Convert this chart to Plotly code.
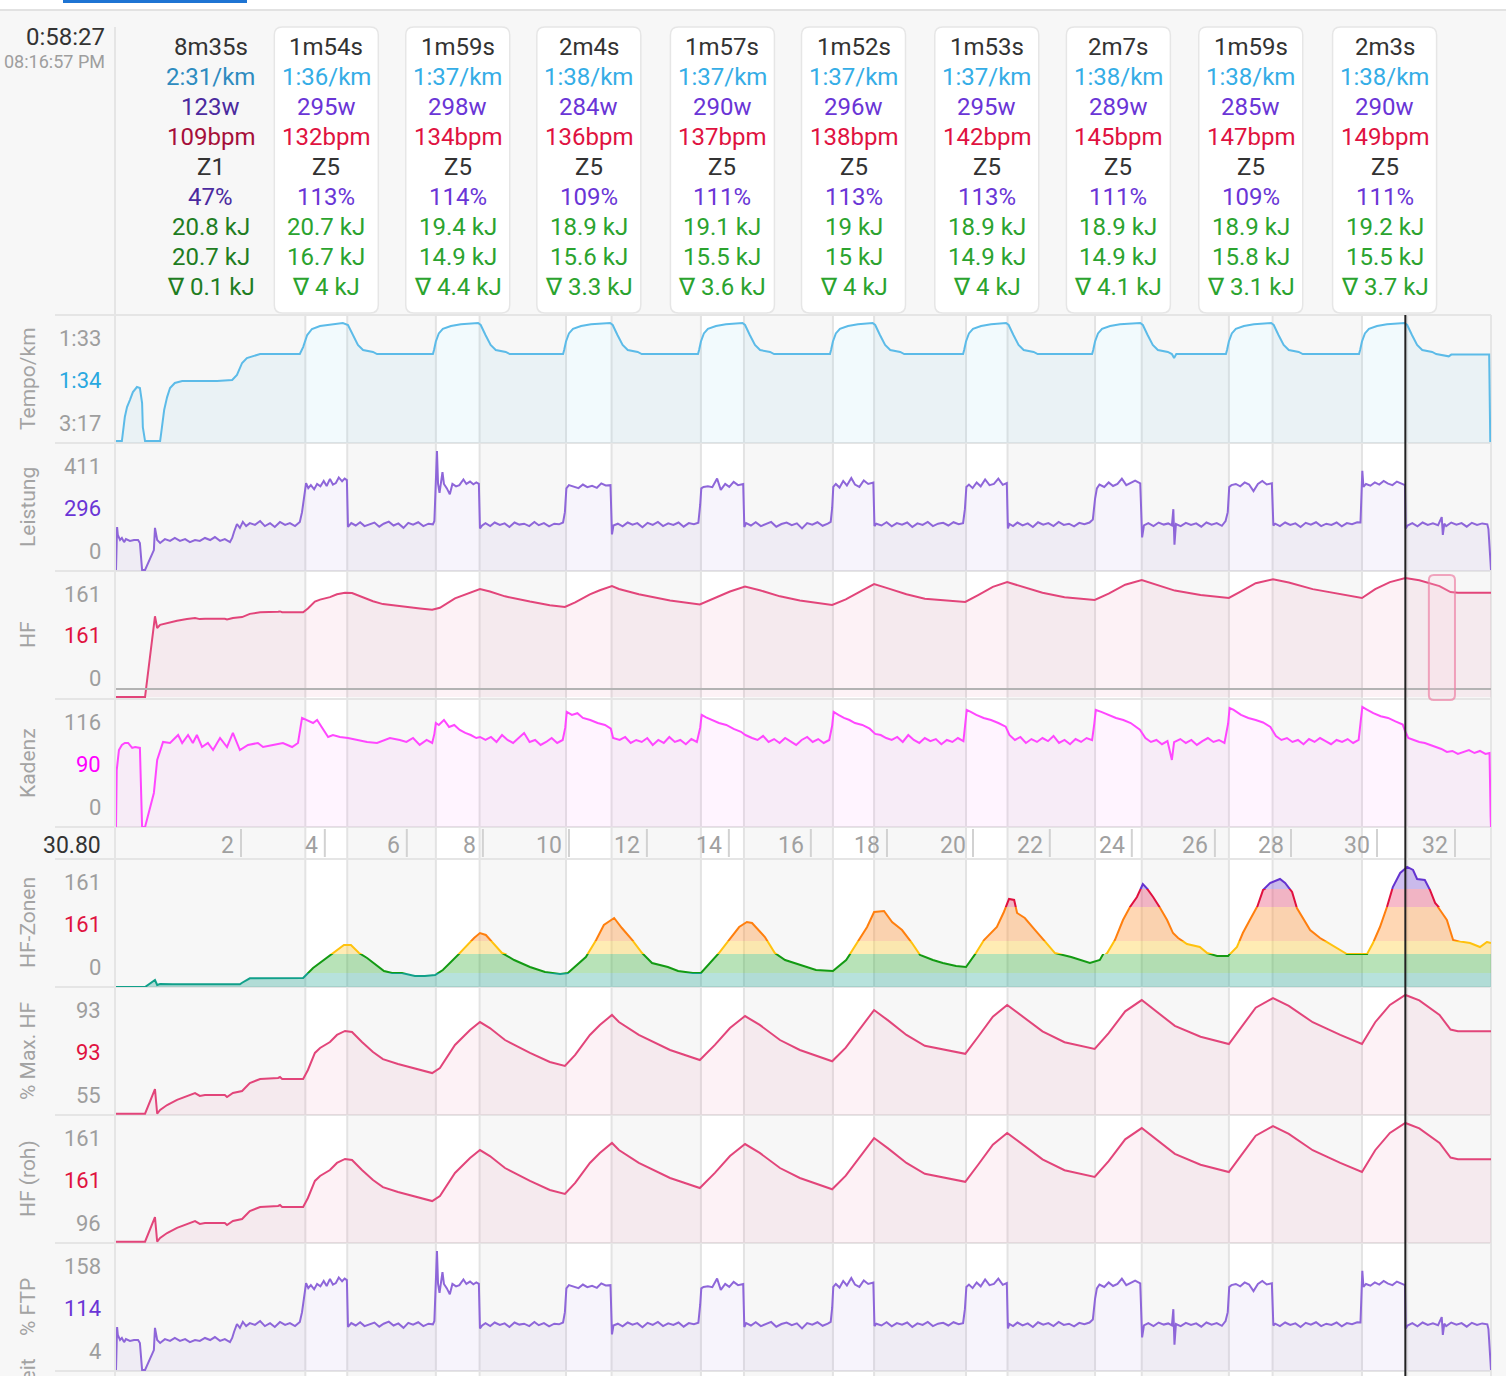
import plotly.graph_objects as go
import numpy as np

# ---------------- data ----------------
# elapsed time in seconds for every sample list
tempo_t = [0, 16, 24, 30, 38, 46, 57, 65, 71, 73, 79, 120, 125, 131, 139, 147, 160, 180, 275, 316, 329, 343, 356, 373, 392, 500,
           509, 520, 533, 555, 574, 617, 631, 645, 658, 672, 699, 710,
           862, 865, 870, 878, 889, 911, 938, 985, 992, 1005, 1019, 1033, 1060, 1071,
           1216, 1219, 1224, 1232, 1243, 1265, 1292, 1344, 1351, 1364, 1378, 1392, 1419, 1430,
           1583, 1586, 1591, 1599, 1610, 1632, 1659, 1704, 1711, 1724, 1738, 1752, 1779, 1790,
           1942, 1945, 1950, 1958, 1969, 1991, 2018, 2058, 2065, 2078, 2092, 2106, 2133, 2144,
           2304, 2307, 2312, 2320, 2331, 2353, 2380, 2421, 2428, 2441, 2455, 2469, 2496, 2507,
           2655, 2658, 2663, 2671, 2682, 2704, 2731, 2786, 2793, 2806, 2820, 2834, 2861, 2872, 2878, 2884,
           3019, 3022, 3027, 3035, 3046, 3068, 3095, 3142, 3149, 3162, 3176, 3190, 3217, 3228,
           3381, 3384, 3389, 3397, 3408, 3430, 3457, 3505, 3512, 3525, 3539, 3553, 3580, 3591, 3625, 3632, 3735, 3738, 3740]
tempo_pace = [197, 197, 176, 167.3, 161, 154.2, 149.8, 150.7, 163.8, 184.8, 197, 197, 184.8, 169.9, 158.6, 150.7, 146.3, 144.6, 144.6, 143.7, 139.3, 128.8, 124.5, 122.7, 121, 121,
              114.9, 104.4, 99.1, 96.5, 95.6, 93.9, 95.6, 104.4, 113.1, 117.5, 119.2, 121,
              121, 117.5, 110, 103, 99, 96.5, 95, 93.9, 95.6, 104.4, 113.1, 117.5, 119.2, 121,
              121, 117.5, 110, 103, 99, 96.5, 95, 93.9, 95.6, 104.4, 113.1, 117.5, 119.2, 121,
              121, 117.5, 110, 103, 99, 96.5, 95, 93.9, 95.6, 104.4, 113.1, 117.5, 119.2, 121,
              121, 117.5, 110, 103, 99, 96.5, 95, 93.9, 95.6, 104.4, 113.1, 117.5, 119.2, 121,
              121, 117.5, 110, 103, 99, 96.5, 95, 93.9, 95.6, 104.4, 113.1, 117.5, 119.2, 121,
              121, 117.5, 110, 103, 99, 96.5, 95, 93.9, 95.6, 104.4, 113.1, 117.5, 119.2, 121, 124.5, 121,
              121, 117.5, 110, 103, 99, 96.5, 95, 93.9, 95.6, 104.4, 113.1, 117.5, 119.2, 121,
              121, 117.5, 110, 103, 99, 96.5, 95, 93.9, 95.6, 104.4, 113.1, 117.5, 119.2, 121, 123, 121.5, 121.5, 197, 197]

power_t = [0, 3, 5, 11, 16, 22, 27, 38, 49, 60, 65, 71, 79, 103, 106, 112, 120, 133, 147, 160, 174, 188, 201, 215, 228, 242, 256, 269, 283, 296, 310, 316, 321, 329, 337, 345, 354, 364, 378, 392, 405, 419, 432, 446, 460, 473, 487, 500, 506, 511, 515,
           517, 523, 530, 539, 547, 556, 565, 573, 582, 590, 598, 606, 615, 622, 628,
           631, 640, 652, 664, 676, 690, 703, 716, 728, 742, 755, 768, 782, 795, 808, 822, 836, 850, 862, 866,
           870, 873, 876, 880, 888, 892, 900, 908, 915, 925, 934, 945, 953, 963, 972, 980, 987,
           990, 996, 1005, 1018, 1030, 1044, 1057, 1070, 1084, 1097, 1110, 1124, 1138, 1150, 1164, 1178, 1192, 1205, 1216, 1221,
           1225, 1232, 1245, 1258, 1270, 1282, 1295, 1308, 1320, 1332, 1345,
           1349, 1353, 1365, 1378, 1392, 1405, 1418, 1432, 1446, 1460, 1474, 1488, 1502, 1516, 1530, 1544, 1558, 1572, 1584, 1589,
           1592, 1598, 1610, 1622, 1635, 1645, 1657, 1668, 1680, 1692, 1706,
           1709, 1714, 1727, 1740, 1754, 1768, 1782, 1796, 1810, 1824, 1838, 1852, 1866, 1880, 1894, 1908, 1922, 1936, 1944, 1948,
           1951, 1958, 1968, 1978, 1988, 2000, 2010, 2022, 2034, 2046, 2060,
           2063, 2068, 2082, 2096, 2110, 2124, 2138, 2152, 2166, 2180, 2194, 2208, 2222, 2236, 2250, 2264, 2278, 2292, 2304, 2309,
           2313, 2320, 2330, 2341, 2352, 2364, 2376, 2388, 2400, 2412, 2423,
           2426, 2430, 2440, 2452, 2466, 2480, 2494, 2508, 2522, 2536, 2550, 2564, 2578, 2592, 2606, 2620, 2634, 2648, 2657,
           2663, 2668, 2675, 2688, 2700, 2712, 2724, 2736, 2748, 2760, 2772, 2786,
           2791, 2796, 2808, 2822, 2836, 2850, 2862, 2872, 2876, 2879, 2883, 2896, 2910, 2924, 2938, 2952, 2966, 2980, 2994, 3008, 3018, 3024,
           3028, 3034, 3046, 3058, 3070, 3082, 3094, 3106, 3118, 3130, 3144,
           3148, 3153, 3166, 3180, 3194, 3208, 3222, 3236, 3250, 3264, 3278, 3292, 3306, 3320, 3334, 3348, 3362, 3376, 3385,
           3389, 3390, 3393, 3400, 3412, 3424, 3436, 3448, 3460, 3472, 3484, 3496, 3506,
           3508, 3513, 3526, 3540, 3554, 3568, 3582, 3596, 3606, 3609, 3613, 3618, 3632, 3646, 3660, 3674, 3688, 3702, 3716, 3730, 3733, 3737, 3740]
power_w = [10, 155, 128, 111, 118, 104, 114, 108, 111, 111, 101, 10, 10, 77, 152, 111, 101, 114, 108, 118, 108, 114, 104, 111, 108, 118, 111, 121, 108, 114, 104, 118, 138, 165, 152, 172, 158, 168, 162, 175, 158, 168, 155, 172, 162, 168, 158, 172, 205, 256, 290,
           303, 286, 296, 282, 300, 292, 310, 293, 317, 298, 303, 322, 309, 318, 313,
           155, 168, 160, 171, 158, 165, 170, 156, 166, 173, 160, 167, 152, 169, 163, 171, 158, 166, 164, 175,
           280, 411, 300, 270, 340, 300, 285, 265, 300, 292, 296, 315, 300, 308, 299, 305, 300,
           150, 160, 168, 158, 170, 162, 167, 155, 170, 163, 166, 158, 172, 161, 168, 157, 166, 164, 170, 205,
           285, 296, 290, 286, 298, 289, 294, 287, 302, 295, 296,
           130, 160, 166, 157, 170, 163, 168, 154, 169, 162, 172, 158, 167, 162, 170, 156, 168, 164, 169, 230,
           285, 290, 292, 289, 318, 280, 300, 290, 307, 296, 300,
           155, 168, 160, 171, 158, 166, 172, 156, 165, 170, 161, 167, 150, 168, 163, 171, 159, 166, 172, 220,
           290, 300, 288, 310, 295, 320, 298, 290, 312, 300, 305,
           158, 166, 160, 171, 157, 168, 163, 170, 155, 167, 162, 172, 158, 166, 169, 160, 171, 164, 168, 215,
           290, 298, 286, 305, 292, 315, 296, 300, 318, 297, 303,
           150, 165, 158, 170, 160, 167, 155, 171, 163, 168, 158, 172, 162, 166, 157, 169, 164, 170, 180,
           250, 285, 298, 290, 305, 293, 300, 318, 296, 303, 311, 302,
           120, 160, 168, 158, 170, 163, 167, 160, 215, 95, 165, 158, 169, 162, 167, 156, 170, 163, 168, 159, 175, 205,
           290, 296, 300, 292, 305, 298, 276, 300, 310, 298, 302,
           160, 166, 158, 170, 162, 167, 155, 169, 163, 171, 158, 166, 162, 170, 157, 168, 164, 171, 170,
           300, 344, 290, 300, 294, 305, 298, 310, 301, 296, 308, 300, 296,
           150, 160, 168, 157, 170, 162, 167, 161, 188, 128, 166, 158, 170, 163, 168, 156, 169, 162, 167, 164, 148, 60, 10]

cad_t = [0, 2, 8, 16, 24, 33, 44, 52, 65, 71, 79, 103, 112, 120, 128, 147, 169, 180, 196, 209, 220, 234, 250, 264, 283, 302, 318, 337, 359, 386, 400, 427, 454, 479, 495,
         506, 520, 536, 547, 560, 577, 590, 609, 631, 656, 683, 710, 745, 772, 790, 808, 826, 845, 860,
         866, 870, 878, 892, 906, 920, 935, 950, 965, 980, 990,
         1005, 1020, 1035, 1050, 1065, 1080, 1095, 1110, 1125, 1140, 1155, 1170, 1185, 1200, 1215,
         1222, 1226, 1240, 1255, 1270, 1290, 1310, 1330, 1346, 1352, 1370, 1385, 1400, 1415, 1430, 1445, 1460, 1475, 1490, 1505, 1520, 1535, 1550, 1565, 1580,
         1589, 1593, 1605, 1620, 1640, 1660, 1680, 1700, 1712, 1730, 1745, 1760, 1775, 1790, 1805, 1820, 1835, 1850, 1865, 1880, 1895, 1910, 1925, 1940,
         1948, 1952, 1965, 1980, 1995, 2010, 2030, 2050, 2065, 2080, 2095, 2110, 2125, 2140, 2155, 2170, 2185, 2200, 2215, 2230, 2245, 2260, 2275, 2290, 2305,
         2310, 2314, 2325, 2340, 2360, 2380, 2400, 2420, 2430, 2445, 2460, 2475, 2490, 2505, 2520, 2535, 2550, 2565, 2580, 2595, 2610, 2625, 2640, 2655,
         2661, 2665, 2680, 2700, 2720, 2740, 2760, 2785, 2800, 2815, 2830, 2845, 2860, 2872, 2878, 2895, 2910, 2925, 2940, 2955, 2970, 2985, 3000, 3015,
         3025, 3029, 3040, 3060, 3080, 3100, 3120, 3140, 3155, 3170, 3185, 3200, 3215, 3230, 3245, 3260, 3275, 3290, 3305, 3320, 3335, 3350, 3365, 3380,
         3386, 3390, 3400, 3420, 3440, 3460, 3480, 3500, 3507, 3515, 3530, 3545, 3560, 3575, 3590, 3605, 3620, 3635, 3650, 3665, 3680, 3695, 3710, 3725, 3736, 3739, 3740]
cad_spm = [0, 55, 74.4, 79.3, 81.2, 81.2, 76.4, 77.3, 76.4, 0, 0, 32.9, 64.8, 74.4, 82.2, 81.2, 88.9, 81.2, 88.9, 81.2, 88.9, 77.3, 81.2, 74.4, 86, 77.3, 90.9, 74.4, 79.3, 81.2, 77.3, 79.3, 81.2, 77.3, 81.2,
           105.4, 103.4, 100.5, 103.4, 96.7, 87, 88.9, 87, 86, 84.1, 82.2, 81.2, 86, 84.1, 82.2, 86, 79.3, 84.1, 81.2,
           90, 100.5, 98.6, 103.4, 96.7, 98.6, 93.8, 90.9, 88.9, 86, 87,
           84.1, 87, 82.2, 88.9, 84.1, 81.2, 86, 90.9, 82.2, 84.1, 79.3, 82.2, 86, 81.2, 84.1,
           96, 111.2, 108.3, 110, 105.4, 103.4, 100.5, 98.6, 95, 86, 84.1, 87, 81.2, 84.1, 82.2, 86, 79.3, 84.1, 81.2, 87, 82.2, 84.1, 80, 85, 82.2,
           96, 108.3, 106, 103.4, 100.5, 98.6, 94.8, 92, 88.9, 86, 84.1, 88, 82.2, 85, 81.2, 86, 83, 79.3, 84.1, 87, 82.2, 85, 81.2, 84.1,
           98, 111.2, 108.3, 105.4, 103.4, 100.5, 98.6, 95, 90, 88.9, 86, 84.1, 87, 82.2, 88.9, 84.1, 81.2, 86, 83, 85, 80, 84.1, 82.2, 86, 83,
           100, 113.1, 111.2, 108.3, 105.4, 103.4, 100.5, 97, 88.9, 84.1, 87, 81.2, 85, 82.2, 86, 83, 88, 81.2, 84.1, 80, 85, 82.2, 86, 84,
           100, 113.1, 111.2, 108.3, 105.4, 103.4, 100.5, 94, 86, 82.2, 84.1, 80, 83, 64.8, 82, 85, 81.2, 84.1, 79.3, 83, 86, 82.2, 84.1, 81.2,
           100, 115, 113.1, 108.3, 105.4, 103.4, 101, 96.7, 88, 84.1, 86, 82.2, 84.1, 80, 85, 82.2, 86, 83, 80, 84.1, 82.2, 85, 81.2, 84.1,
           100, 116, 114, 110, 107, 105.4, 102, 99, 92, 86, 84.1, 82.2, 81.2, 79.3, 77.3, 75.4, 72.5, 73.5, 70.6, 72.5, 74.4, 71.5, 73.5, 70.6, 71.5, 10, 0]

hr_t = [0, 79, 106, 112, 120, 139, 166, 193, 215, 228, 242, 296, 302, 318, 343, 364, 392, 441, 446, 452, 509, 522, 541, 555, 582, 601, 623, 642, 669, 699, 726, 767, 827, 860,
        881, 922, 963, 990, 1017, 1058, 1126, 1180, 1221, 1249, 1289, 1316, 1349, 1368, 1422, 1507, 1588, 1629, 1670, 1711, 1751, 1806, 1860, 1948,
        1985, 2025, 2062, 2100, 2150, 2200, 2310, 2345, 2385, 2424, 2460, 2520, 2580, 2662, 2700, 2745, 2790, 2830, 2880, 2950, 3027,
        3060, 3100, 3147, 3190, 3255, 3330, 3389, 3425, 3465, 3507, 3545, 3600, 3630, 3650, 3740]
hr_bpm = [0, 0, 109.2, 93.4, 97.7, 100.4, 103.2, 105.4, 107, 105.4, 105.9, 105.9, 104.8, 107, 108.1, 112.5, 114.7, 115.3, 115.8, 114.7, 114.7, 119.7, 129.1, 131.8, 135.1, 139, 141.2, 140.6, 135.1, 129.6, 125.7, 123, 119.7, 118,
          120.8, 133.5, 141.7, 146.1, 142.8, 136.2, 129.1, 124.1, 121.9, 128, 139, 144.5, 150, 146.1, 139, 130.7, 125.2, 133.5, 142.8, 149.4, 144.5, 136.2, 130.7, 124.5,
          132, 143, 152.7, 147, 139, 133, 128.6, 138, 149, 155.5, 150, 141, 135, 131.3, 140, 152, 158.2, 152, 144, 138, 134,
          143, 154, 159.3, 155, 146, 139, 134, 146, 155.5, 161, 158, 150, 142, 141, 141]

zon_t = [0, 79, 106, 112, 120, 155, 337, 343, 364, 509, 536, 558, 585, 620, 639, 661, 683, 729, 751, 778, 813, 840, 868,
         889, 930, 974, 990, 1006, 1050, 1083, 1126, 1167, 1208, 1229,
         1278, 1306, 1327, 1355, 1376, 1404, 1431, 1458, 1501, 1529, 1569, 1591,
         1640, 1667, 1695, 1716, 1730, 1765, 1792, 1820, 1860, 1904, 1950,
         1986, 2013, 2043, 2062, 2089, 2111, 2138, 2165, 2187, 2222, 2249, 2285, 2312,
         2339, 2361, 2396, 2415, 2429, 2443, 2451, 2472, 2500, 2527, 2554, 2598, 2649,
         2676, 2696, 2717, 2739, 2758, 2777, 2793, 2807, 2821, 2840, 2859, 2875, 2889, 2913, 2948, 2968, 2995, 3025,
         3049, 3065, 3084, 3104, 3120, 3139, 3166, 3180, 3199, 3212, 3226, 3248, 3275, 3302, 3329, 3348, 3403,
         3419, 3438, 3457, 3473, 3493, 3512, 3528, 3539, 3560, 3574, 3588, 3607, 3620, 3637, 3648, 3683, 3710, 3729, 3740]
zon_v = [0, 0, 9.3, 2.7, 4, 3.6, 3.6, 5.7, 11.5, 12, 25.3, 33.3, 42.6, 55.9, 55.9, 45.2, 38.6, 21.3, 18.6, 18.6, 14.6, 14.6, 16,
         22.6, 42.6, 65.2, 71.8, 69.2, 45.2, 35.9, 26.6, 20, 17.3, 18.6,
         39.9, 62.5, 82.5, 91.8, 78.5, 62.5, 45.2, 31.9, 26.6, 21.3, 18.6, 18.6,
         45.2, 62.5, 79.8, 86.5, 85.2, 66.5, 45.2, 35.9, 29.3, 22.6, 21.3,
         35.9, 55.9, 79.8, 99.8, 101.1, 86.5, 75.8, 58.5, 42.6, 35.9, 31.9, 27.9, 26.6,
         45.2, 62.5, 79.8, 99.8, 117.1, 115.8, 98.5, 91.8, 75.8, 59.9, 45.2, 39.9, 31.9,
         35.9, 45.2, 62.5, 89.1, 106.4, 119.7, 137, 129.1, 119.7, 105.1, 89.1, 71.8, 65.2, 57.2, 53.2, 45.2, 41.2, 41.2,
         53.2, 71.8, 89.1, 106.4, 129.1, 138.4, 143.7, 138.4, 126.4, 105.1, 93.1, 75.8, 65.2, 57.2, 49.2, 43.9, 43.9,
         58.5, 79.8, 106.4, 133, 151.7, 159.7, 155.7, 143.7, 142.4, 129.1, 111.8, 98.5, 89.1, 62.5, 61.2, 58.5, 53.2, 59.9, 58.5]
zone_limits = [0, 18.6, 43.9, 61.2, 106.4, 130.4, 170.3]
zone_line_colors = ["#11a08a", "#139a13", "#ffc20e", "#ff7f0e", "#e0103f", "#6433d0"]
zone_fill_colors = ["rgba(17,160,138,0.30)", "rgba(40,170,40,0.33)", "rgba(255,200,40,0.35)",
                    "rgba(255,140,40,0.35)", "rgba(230,40,90,0.32)", "rgba(110,60,210,0.32)"]

# intervals
warmup = dict(start=0, dur=515)
iv_start = [515, 870, 1224, 1591, 1950, 2312, 2663, 3027, 3389]
iv_dur = [114, 119, 124, 117, 112, 113, 127, 119, 123]
iv_label = ["1m54s", "1m59s", "2m4s", "1m57s", "1m52s", "1m53s", "2m7s", "1m59s", "2m3s"]
iv_pace = ["1:36/km", "1:37/km", "1:38/km", "1:37/km", "1:37/km", "1:37/km", "1:38/km", "1:38/km", "1:38/km"]
iv_watts = ["295w", "298w", "284w", "290w", "296w", "295w", "289w", "285w", "290w"]
iv_bpm = ["132bpm", "134bpm", "136bpm", "137bpm", "138bpm", "142bpm", "145bpm", "147bpm", "149bpm"]
iv_zone = ["Z5"] * 9
iv_pct = ["113%", "114%", "109%", "111%", "113%", "113%", "111%", "109%", "111%"]
iv_kj1 = ["20.7 kJ", "19.4 kJ", "18.9 kJ", "19.1 kJ", "19 kJ", "18.9 kJ", "18.9 kJ", "18.9 kJ", "19.2 kJ"]
iv_kj2 = ["16.7 kJ", "14.9 kJ", "15.6 kJ", "15.5 kJ", "15 kJ", "14.9 kJ", "14.9 kJ", "15.8 kJ", "15.5 kJ"]
iv_kj3 = ["∇ 4 kJ", "∇ 4.4 kJ", "∇ 3.3 kJ", "∇ 3.6 kJ", "∇ 4 kJ", "∇ 4 kJ", "∇ 4.1 kJ", "∇ 3.1 kJ", "∇ 3.7 kJ"]
warm_text = ["8m35s", "2:31/km", "123w", "109bpm", "Z1", "47%", "20.8 kJ", "20.7 kJ", "∇ 0.1 kJ"]

km_tick_t = [340, 568, 791, 998, 1232, 1444, 1667, 1890, 2097, 2331, 2540, 2763, 2989, 3196, 3430, 3642]
km_tick_label = ["2", "4", "6", "8", "10", "12", "14", "16", "18", "20", "22", "24", "26", "28", "30", "32"]

cursor_t = 3507
lap_marker = (3571, 3642)
hf_ref_line = 10.8

panel_titles = ["Tempo/km", "Leistung", "HF", "Kadenz", "HF-Zonen", "% Max. HF", "HF (roh)", "% FTP"]
panel_labels = [("1:33", "1:34", "3:17"), ("411", "296", "0"), ("161", "161", "0"), ("116", "90", "0"),
                ("161", "161", "0"), ("93", "93", "55"), ("161", "161", "96"), ("158", "114", "4")]

# ---------------- layout helpers ----------------
W, H = 1506, 1376
X0, X1 = 116, 1491
T_MAX = 3740
FONT = "Roboto, 'Noto Sans', sans-serif"


def fy(p):
    return 1 - p / H


def fx(p):
    return p / W


def t2px(t):
    return X0 + t * (X1 - X0) / T_MAX


panels = {  # name: (top px, bottom px, axis range)
    "tempo": (315, 443, [198.7, 86.9]),
    "power": (443, 571, [6.6, 438]),
    "hf": (571, 699, [-2.7, 170.5]),
    "cad": (699, 827, [0, 123.7]),
    "zon": (859, 987, [0, 170.3]),
    "pmax": (987, 1115, [94.9, 165.4]),
    "raw": (1115, 1243, [94.9, 165.4]),
    "ftp": (1243, 1371, [6.6, 438]),
}
axis_of = {}
layout = dict(
    width=W, height=H, margin=dict(l=0, r=0, t=0, b=0),
    paper_bgcolor="#f7f7f7", plot_bgcolor="rgba(0,0,0,0)",
    showlegend=False, font=dict(family=FONT),
    xaxis=dict(domain=[fx(X0), fx(X1)], range=[0, T_MAX], visible=False, anchor="y", fixedrange=True),
)
for i, (name, (top, bot, rng)) in enumerate(panels.items()):
    n = i + 1
    key = "yaxis" if n == 1 else f"yaxis{n}"
    layout[key] = dict(domain=[fy(bot), fy(top)], range=rng, visible=False, anchor="x", fixedrange=True)
    axis_of[name] = "y" if n == 1 else f"y{n}"

fig = go.Figure()


def add_line(x, y, yaxis, color, fillcolor, fill="tozeroy"):
    fig.add_trace(go.Scatter(x=x, y=y, xaxis="x", yaxis=yaxis, mode="lines",
                             line=dict(color=color, width=2), fill=fill, fillcolor=fillcolor,
                             hoverinfo="skip"))


# tempo: reversed axis, fill toward the bottom (slow) edge
fig.add_trace(go.Scatter(x=[0, T_MAX], y=[panels["tempo"][2][0]] * 2, xaxis="x", yaxis=axis_of["tempo"],
                         mode="lines", line=dict(width=0), hoverinfo="skip"))
add_line(tempo_t, tempo_pace, axis_of["tempo"], "#5cbbe8", "rgba(92,187,232,0.08)", fill="tonexty")
add_line(power_t, power_w, axis_of["power"], "#8e66d9", "rgba(142,102,217,0.07)")
add_line(hr_t, hr_bpm, axis_of["hf"], "#e2457a", "rgba(226,69,122,0.07)")
add_line(cad_t, cad_spm, axis_of["cad"], "#ff47ff", "rgba(255,71,255,0.06)")
hr_clamped = np.clip(np.array(hr_bpm, dtype=float), 95.6, None)
add_line(hr_t, hr_clamped, axis_of["pmax"], "#e2457a", "rgba(226,69,122,0.07)")
add_line(hr_t, hr_clamped, axis_of["raw"], "#e2457a", "rgba(226,69,122,0.07)")
add_line(power_t, power_w, axis_of["ftp"], "#8e66d9", "rgba(142,102,217,0.07)")

# zone panel: one y-axis per zone band, each clipping the same series
ztop, zbot, zrng = panels["zon"]


def zfrac(v):
    return fy(zbot) + (v - zrng[0]) / (zrng[1] - zrng[0]) * (fy(ztop) - fy(zbot))


for k in range(len(zone_limits) - 1):
    lo, hi = zone_limits[k], zone_limits[k + 1]
    n = 9 + k
    layout[f"yaxis{n}"] = dict(domain=[zfrac(lo), zfrac(hi)], range=[lo, hi], visible=False,
                               anchor="x", fixedrange=True)
    add_line(zon_t, zon_v, f"y{n}", zone_line_colors[k], zone_fill_colors[k])

shapes = []
ann = []

# top strip
shapes.append(dict(type="rect", xref="paper", yref="paper", x0=0, x1=1, y0=fy(10), y1=1,
                   fillcolor="white", line_width=0, layer="below"))
shapes.append(dict(type="line", xref="paper", yref="paper", x0=0, x1=1, y0=fy(10), y1=fy(10),
                   line=dict(color="#e2e2e2", width=2)))
shapes.append(dict(type="rect", xref="paper", yref="paper", x0=fx(63), x1=fx(247), y0=fy(3), y1=1,
                   fillcolor="#1e74d3", line_width=0))

# interval white bands + boundaries
for s, d in zip(iv_start, iv_dur):
    shapes.append(dict(type="rect", xref="x", yref="paper", x0=s, x1=s + d, y0=fy(1376), y1=fy(315),
                       fillcolor="white", line_width=0, layer="below"))
    for xx in (s, s + d):
        shapes.append(dict(type="line", xref="x", yref="paper", x0=xx, x1=xx, y0=fy(1376), y1=fy(315),
                           line=dict(color="#e3e3e3", width=2), layer="below"))

# panel separators
for yy in [315, 443, 571, 699, 827, 859, 987, 1115, 1243, 1371]:
    shapes.append(dict(type="line", xref="paper", yref="paper", x0=fx(55), x1=fx(X1), y0=fy(yy), y1=fy(yy),
                       line=dict(color="#e5e5e5", width=2), layer="below"))
shapes.append(dict(type="line", xref="paper", yref="paper", x0=fx(115), x1=fx(115), y0=fy(1376), y1=fy(27),
                   line=dict(color="#e5e5e5", width=2), layer="below"))
shapes.append(dict(type="line", xref="paper", yref="paper", x0=fx(X1), x1=fx(X1), y0=fy(1376), y1=fy(315),
                   line=dict(color="#e5e5e5", width=2), layer="below"))


def rrect(x0, y0, x1, y1, r):
    def P(x, y):
        return f"{x / W:.6f},{1 - y / H:.6f}"
    return (f"M {P(x0 + r, y0)} L {P(x1 - r, y0)} Q {P(x1, y0)} {P(x1, y0 + r)} "
            f"L {P(x1, y1 - r)} Q {P(x1, y1)} {P(x1 - r, y1)} L {P(x0 + r, y1)} "
            f"Q {P(x0, y1)} {P(x0, y1 - r)} L {P(x0, y0 + r)} Q {P(x0, y0)} {P(x0 + r, y0)} Z")


# header boxes and text
row_y = [47, 77, 107, 137, 167, 197, 227, 257, 287]
row_colors = ["#333333", "#35ade6", "#6a35d6", "#e0123f", "#333333", "#6a35d6", "#2ba32f", "#2ba32f", "#2ba32f"]
warm_colors = ["#333333", "#2e8bbf", "#4b2a9f", "#a60f3a", "#333333", "#4b2a9f", "#1f7d22", "#1f7d22", "#1f7d22"]
HDR = 24
for k, s in enumerate(iv_start):
    c = t2px(s + iv_dur[k] / 2)
    shapes.append(dict(type="path", xref="paper", yref="paper", path=rrect(c - 52, 27, c + 52, 313, 8),
                       fillcolor="white", line=dict(color="#e6e6e6", width=1.5), layer="below"))
    texts = [iv_label[k], iv_pace[k], iv_watts[k], iv_bpm[k], iv_zone[k], iv_pct[k], iv_kj1[k], iv_kj2[k], iv_kj3[k]]
    for txt, yy, col in zip(texts, row_y, row_colors):
        ann.append(dict(x=s + iv_dur[k] / 2, xref="x", y=fy(yy), yref="paper", text=txt, showarrow=False,
                        xanchor="center", yanchor="middle", font=dict(size=HDR, color=col, family=FONT)))
wc = warmup["start"] + warmup["dur"] / 2
for txt, yy, col in zip(warm_text, row_y, warm_colors):
    ann.append(dict(x=wc, xref="x", y=fy(yy), yref="paper", text=txt, showarrow=False,
                    xanchor="center", yanchor="middle", font=dict(size=HDR, color=col, family=FONT)))

ann.append(dict(x=fx(107), xref="paper", y=fy(37), yref="paper", text="0:58:27", showarrow=False,
                xanchor="right", yanchor="middle", font=dict(size=24, color="#333333", family=FONT)))
ann.append(dict(x=fx(107), xref="paper", y=fy(62), yref="paper", text="08:16:57 PM", showarrow=False,
                xanchor="right", yanchor="middle", font=dict(size=18, color="#9e9e9e", family=FONT)))

# y labels and titles
mid_colors = ["#29a8e0", "#6a35d6", "#e0123f", "#ff00ff", "#e0123f", "#e0123f", "#e0123f", "#6a35d6"]
for (name, (top, bot, rng)), title, labs, mc in zip(panels.items(), panel_titles, panel_labels, mid_colors):
    for lab, off, col in zip(labs, (23, 65, 108), ("#9e9e9e", mc, "#9e9e9e")):
        ann.append(dict(x=fx(103), xref="paper", y=fy(top + off), yref="paper", text=lab, showarrow=False,
                        xanchor="right", yanchor="middle", font=dict(size=22, color=col, family=FONT)))
    ann.append(dict(x=fx(28), xref="paper", y=fy((top + bot) / 2), yref="paper", text=title, showarrow=False,
                    textangle=-90, xanchor="center", yanchor="middle",
                    font=dict(size=21, color="#a3a3a3", family=FONT)))
ann.append(dict(x=fx(28), xref="paper", y=fy(1435), yref="paper", text="Geschwindigkeit", showarrow=False,
                textangle=-90, xanchor="center", yanchor="middle", font=dict(size=21, color="#a3a3a3", family=FONT)))

# km axis band
ann.append(dict(x=fx(103), xref="paper", y=fy(845), yref="paper", text="30.80", showarrow=False,
                xanchor="right", yanchor="middle", font=dict(size=23, color="#333333", family=FONT)))
for t, lab in zip(km_tick_t, km_tick_label):
    shapes.append(dict(type="line", xref="x", yref="paper", x0=t, x1=t, y0=fy(857), y1=fy(829),
                       line=dict(color="#d2d2d2", width=2)))
    ann.append(dict(x=t, xref="x", y=fy(845), yref="paper", text=lab, showarrow=False, xanchor="right",
                    xshift=-5, yanchor="middle", font=dict(size=23, color="#a0a0a0", family=FONT)))

# HF reference line, lap marker, cursor
shapes.append(dict(type="line", xref="x", yref=axis_of["hf"], x0=0, x1=T_MAX, y0=hf_ref_line, y1=hf_ref_line,
                   line=dict(color="#b3b3b3", width=2)))
shapes.append(dict(type="path", xref="paper", yref="paper",
                   path=rrect(t2px(lap_marker[0]), 575, t2px(lap_marker[1]), 700, 5),
                   fillcolor="rgba(255,210,225,0.2)", line=dict(color="rgba(236,130,165,0.7)", width=2)))
shapes.append(dict(type="line", xref="x", yref="paper", x0=cursor_t, x1=cursor_t, y0=0, y1=fy(315),
                   line=dict(color="#222222", width=2)))

layout["shapes"] = shapes
layout["annotations"] = ann
fig.update_layout(**layout)
fig.write_html("out.html")
